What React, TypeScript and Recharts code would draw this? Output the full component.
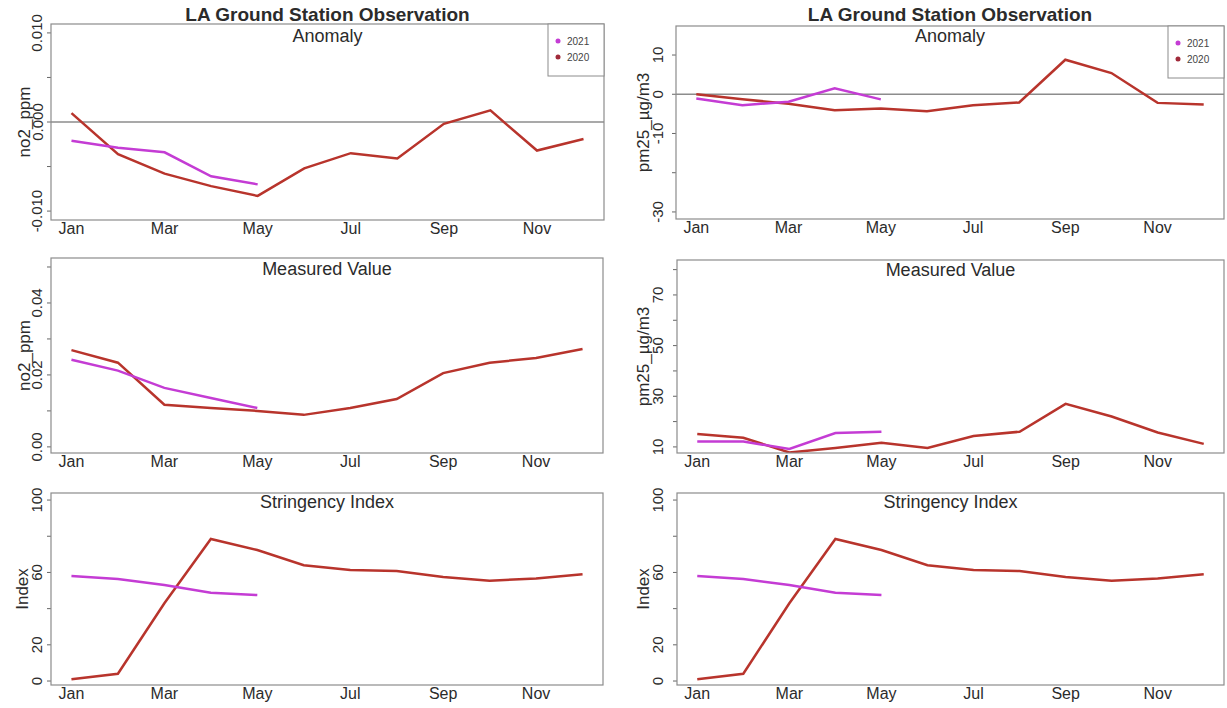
import React from "react"
import { LineChart, Line, XAxis, YAxis, ReferenceLine } from "recharts"

// months 1..12, labelled every other month like the R plot
const MONTHS = [1, 2, 3, 4, 5, 6, 7, 8, 9, 10, 11, 12]
const MONTH_TICKS = [1, 3, 5, 7, 9, 11]
const MONTH_LABELS = ["Jan", "Mar", "May", "Jul", "Sep", "Nov"]

// NO2 anomaly (ppm)
const no2Anom2020 = [0.001, -0.0036, -0.0058, -0.0072, -0.0083, -0.0052, -0.0035, -0.0041, -0.0002, 0.0013, -0.0032, -0.0019]
const no2Anom2021 = [-0.0021, -0.0029, -0.0034, -0.0061, -0.007]
const no2AnomTicks = [-0.01, -0.005, 0, 0.005, 0.01]
const no2AnomTickLabels = ["-0.010", "", "0.000", "", "0.010"]

// PM2.5 anomaly (ug/m3)
const pm25Anom2020 = [0.0, -1.3, -2.4, -4.1, -3.6, -4.3, -2.8, -2.1, 8.8, 5.4, -2.2, -2.6]
const pm25Anom2021 = [-1.1, -2.8, -1.9, 1.5, -1.3]
const pm25AnomTicks = [-30, -20, -10, 0, 10]
const pm25AnomTickLabels = ["-30", "", "-10", "0", "10"]

// NO2 measured (ppm)
const no2Meas2020 = [0.0269, 0.0234, 0.0117, 0.0108, 0.01, 0.0089, 0.0108, 0.0133, 0.0205, 0.0234, 0.0247, 0.0272]
const no2Meas2021 = [0.0242, 0.0212, 0.0164, 0.0136, 0.0108]
const no2MeasTicks = [0, 0.01, 0.02, 0.03, 0.04, 0.05]
const no2MeasTickLabels = ["0.00", "", "0.02", "", "0.04", ""]

// PM2.5 measured (ug/m3)
const pm25Meas2020 = [15.1, 13.6, 7.8, 9.6, 11.6, 9.6, 14.3, 16.0, 27.0, 22.0, 15.7, 11.2]
const pm25Meas2021 = [12.1, 12.1, 9.2, 15.5, 16.0]
const pm25MeasTicks = [10, 20, 30, 40, 50, 60, 70, 80]
const pm25MeasTickLabels = ["10", "", "30", "", "50", "", "70", ""]

// stringency index
const stringency2020 = [1, 4, 43, 78.5, 72.4, 64, 61.3, 60.8, 57.5, 55.4, 56.7, 59]
const stringency2021 = [58, 56.4, 53, 48.8, 47.5]
const stringencyTicks = [0, 20, 40, 60, 80, 100]
const stringencyTickLabels = ["0", "20", "", "60", "", "100"]

const COLOR_2020 = "#b8342c"
const COLOR_2021 = "#c43cd4"
const FONT = '"Liberation Sans", Arial, Helvetica, sans-serif'
const TEXT = "#2b2b2b"

function toRows(a2020: number[], a2021: number[]) {
  return MONTHS.map((m, i) => ({
    month: m,
    y2020: a2020[i],
    y2021: i < a2021.length ? a2021[i] : null,
  }))
}

type Box = { l: number; r: number; t: number; b: number }

interface PanelProps {
  cx: number
  cy: number
  w: number
  h: number
  box: Box
  tickX: number
  titleX: number
  yDomain: [number, number]
  yTicks: number[]
  yTickLabels: string[]
  yTitle: string
  subtitle: string
  subtitleY: number
  mainTitle?: boolean
  zeroLine?: boolean
  legend?: boolean
  a2020: number[]
  a2021: number[]
}

function Panel(p: PanelProps) {
  const data = toRows(p.a2020, p.a2021)
  const lx = p.tickX - p.cx
  return (
    <div style={{ position: "absolute", left: p.cx, top: p.cy, width: p.w, height: p.h }}>
      <LineChart
        width={p.w}
        height={p.h}
        data={data}
        margin={{ top: p.box.t - p.cy, right: p.cx + p.w - p.box.r, bottom: 0, left: 0 }}
        style={{ fontFamily: FONT }}
      >
        <XAxis
          dataKey="month"
          type="number"
          domain={[0.56, 12.44]}
          ticks={MONTH_TICKS}
          interval={0}
          height={p.cy + p.h - p.box.b}
          axisLine={false}
          tickLine={false}
          tickSize={0}
          tickMargin={0}
          tick={(t: any) => (
            <text x={t.x} y={t.y + 14} textAnchor="middle" fontSize={16} fill={TEXT} fontFamily={FONT}>
              {MONTH_LABELS[MONTH_TICKS.indexOf(t.payload.value)]}
            </text>
          )}
        />
        <YAxis
          type="number"
          domain={p.yDomain}
          allowDataOverflow
          ticks={p.yTicks}
          interval={0}
          width={p.box.l - p.cx}
          axisLine={false}
          tickSize={4}
          tickLine={{ stroke: "#666" }}
          tick={(t: any) => {
            const i = p.yTicks.findIndex((v) => Math.abs(v - t.payload.value) < 1e-9)
            const label = i >= 0 ? p.yTickLabels[i] : ""
            if (!label) return <g />
            return (
              <text
                x={lx}
                y={t.y}
                transform={`rotate(-90 ${lx} ${t.y})`}
                textAnchor="middle"
                dominantBaseline="central"
                fontSize={15}
                fill={TEXT}
                fontFamily={FONT}
              >
                {label}
              </text>
            )
          }}
        />
        {p.zeroLine && <ReferenceLine y={0} stroke="#8c8c8c" strokeWidth={1.5} />}
        <Line dataKey="y2020" type="linear" stroke={COLOR_2020} strokeWidth={2.5} dot={false} isAnimationActive={false} />
        <Line dataKey="y2021" type="linear" stroke={COLOR_2021} strokeWidth={2.5} dot={false} isAnimationActive={false} />
      </LineChart>
    </div>
  )
}

function Overlay({ panels }: { panels: PanelProps[] }) {
  return (
    <svg width={1227} height={708} style={{ position: "absolute", left: 0, top: 0, pointerEvents: "none", fontFamily: FONT }}>
      {panels.map((p, k) => {
        const { box } = p
        const mid = (box.l + box.r) / 2
        const ymid = (box.t + box.b) / 2
        return (
          <g key={k}>
            <rect x={box.l} y={box.t} width={box.r - box.l} height={box.b - box.t} fill="none" stroke="#8c8c8c" strokeWidth={1.2} />
            {p.mainTitle && (
              <text x={mid} y={21} textAnchor="middle" fontSize={19} fontWeight="bold" fill={TEXT}>
                LA Ground Station Observation
              </text>
            )}
            <text x={mid} y={p.subtitleY} textAnchor="middle" fontSize={18} fill={TEXT}>
              {p.subtitle}
            </text>
            <text
              x={p.titleX}
              y={ymid}
              transform={`rotate(-90 ${p.titleX} ${ymid})`}
              textAnchor="middle"
              dominantBaseline="central"
              fontSize={17}
              fill={TEXT}
            >
              {p.yTitle}
            </text>
            {p.legend && (
              <g>
                <rect x={box.r - 56} y={box.t} width={56} height={52} fill="#fff" stroke="#8c8c8c" strokeWidth={1} />
                <circle cx={box.r - 46} cy={box.t + 17} r={2.5} fill={COLOR_2021} />
                <text x={box.r - 37} y={box.t + 20.5} fontSize={10} fill="#444">2021</text>
                <circle cx={box.r - 46} cy={box.t + 33} r={2.5} fill="#a02a3a" />
                <text x={box.r - 37} y={box.t + 36.5} fontSize={10} fill="#444">2020</text>
              </g>
            )}
          </g>
        )
      })}
    </svg>
  )
}

export default function App() {
  const panels: PanelProps[] = [
    {
      cx: 0, cy: 0, w: 614, h: 240, box: { l: 51, r: 604, t: 24, b: 220 }, tickX: 37, titleX: 24,
      yDomain: [-0.011, 0.011], yTicks: no2AnomTicks, yTickLabels: no2AnomTickLabels, yTitle: "no2_ppm",
      subtitle: "Anomaly", subtitleY: 42, mainTitle: true, zeroLine: true, legend: true,
      a2020: no2Anom2020, a2021: no2Anom2021,
    },
    {
      cx: 614, cy: 0, w: 613, h: 240, box: { l: 676, r: 1224, t: 26, b: 219 }, tickX: 658, titleX: 643,
      yDomain: [-31.8, 17.4], yTicks: pm25AnomTicks, yTickLabels: pm25AnomTickLabels, yTitle: "pm25_µg/m3",
      subtitle: "Anomaly", subtitleY: 42, mainTitle: true, zeroLine: true, legend: true,
      a2020: pm25Anom2020, a2021: pm25Anom2021,
    },
    {
      cx: 0, cy: 240, w: 614, h: 230, box: { l: 51, r: 603, t: 258, b: 453 }, tickX: 37, titleX: 24,
      yDomain: [-0.0017, 0.0525], yTicks: no2MeasTicks, yTickLabels: no2MeasTickLabels, yTitle: "no2_ppm",
      subtitle: "Measured Value", subtitleY: 275,
      a2020: no2Meas2020, a2021: no2Meas2021,
    },
    {
      cx: 614, cy: 240, w: 613, h: 230, box: { l: 677, r: 1224, t: 260, b: 453 }, tickX: 658, titleX: 643,
      yDomain: [7.6, 83.8], yTicks: pm25MeasTicks, yTickLabels: pm25MeasTickLabels, yTitle: "pm25_µg/m3",
      subtitle: "Measured Value", subtitleY: 276,
      a2020: pm25Meas2020, a2021: pm25Meas2021,
    },
    {
      cx: 0, cy: 470, w: 614, h: 238, box: { l: 51, r: 603, t: 493, b: 685 }, tickX: 37, titleX: 22,
      yDomain: [-2.2, 103.9], yTicks: stringencyTicks, yTickLabels: stringencyTickLabels, yTitle: "Index",
      subtitle: "Stringency Index", subtitleY: 508,
      a2020: stringency2020, a2021: stringency2021,
    },
    {
      cx: 614, cy: 470, w: 613, h: 238, box: { l: 677, r: 1224, t: 493, b: 685 }, tickX: 658, titleX: 643,
      yDomain: [-2.2, 103.9], yTicks: stringencyTicks, yTickLabels: stringencyTickLabels, yTitle: "Index",
      subtitle: "Stringency Index", subtitleY: 508,
      a2020: stringency2020, a2021: stringency2021,
    },
  ]

  return (
    <div style={{ position: "absolute", left: 0, top: 0, width: 1227, height: 708, background: "#fff", overflow: "hidden" }}>
      {panels.map((p, i) => (
        <Panel key={i} {...p} />
      ))}
      <Overlay panels={panels} />
    </div>
  )
}
